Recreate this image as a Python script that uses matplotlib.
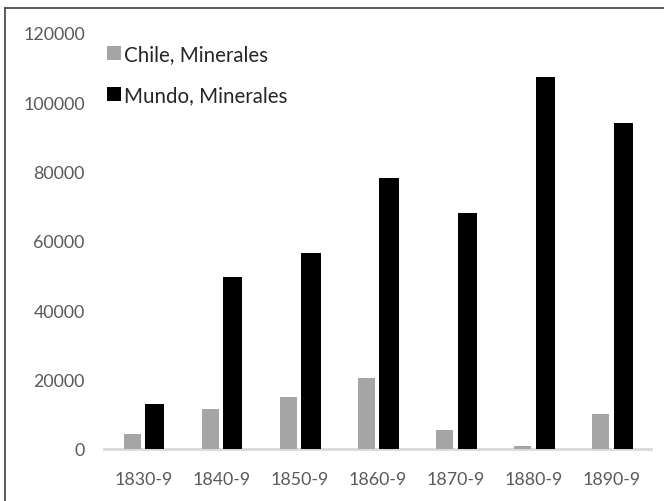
import numpy as np
import matplotlib.pyplot as plt
from matplotlib.lines import Line2D

decades = ['1830-9', '1840-9', '1850-9', '1860-9', '1870-9', '1880-9', '1890-9']
chile = [4200, 11600, 14900, 20500, 5500, 800, 10200]
mundo = [13000, 49600, 56400, 78200, 68100, 107400, 94000]
yticks = [0, 20000, 40000, 60000, 80000, 100000, 120000]

plt.rcParams['font.family'] = ['Lato', 'DejaVu Sans']

fig = plt.figure(figsize=(6.64, 5.02), dpi=100)
ax = fig.add_axes([0.157, 0.1036, 0.823, 0.8287])

x = np.arange(len(decades))
ax.bar(x - 0.14, chile, width=0.215, color='#A5A5A5', label='Chile, Minerales', zorder=3)
ax.bar(x + 0.148, mundo, width=0.245, color='#000000', label='Mundo, Minerales', zorder=3)

ax.set_xlim(-0.5, len(decades) - 0.5)
ax.set_ylim(0, 120000)
ax.set_yticks(yticks)
ax.set_yticklabels([str(v) for v in yticks])
ax.set_xticks(x)
ax.set_xticklabels(decades)
ax.tick_params(axis='both', length=0, labelsize=12.8, colors='#595959')
ax.tick_params(axis='y', pad=14)
ax.tick_params(axis='x', pad=16)

for s in ['top', 'right', 'left']:
    ax.spines[s].set_visible(False)
ax.spines['bottom'].set_color('#D9D9D9')
ax.spines['bottom'].set_linewidth(2)

leg = ax.legend(loc='upper left', bbox_to_anchor=(-0.029, 1.017), frameon=False,
                fontsize=14.8, handlelength=0.7, handleheight=0.7,
                handletextpad=0.15, labelspacing=1.0, labelcolor='#262626')

# outer chart border
fig.add_artist(Line2D([5/664, 5/664], [0, 1 - 9/502], transform=fig.transFigure,
                      color='#404040', lw=1.2))
fig.add_artist(Line2D([5/664, 1], [1 - 9/502, 1 - 9/502], transform=fig.transFigure,
                      color='#404040', lw=1.2))

fig.savefig('out.png', dpi=100)
